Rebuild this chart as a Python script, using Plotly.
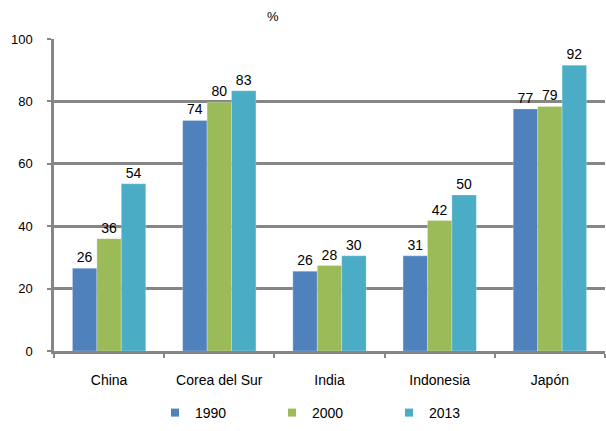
import plotly.graph_objects as go

categories = ["China", "Corea del Sur", "India", "Indonesia", "Japón"]
series_names = ["1990", "2000", "2013"]
values_1990 = [26.5, 73.9, 25.6, 30.5, 77.6]
values_2000 = [36.0, 79.7, 27.4, 41.8, 78.4]
values_2013 = [53.6, 83.4, 30.5, 50.0, 91.6]
labels_1990 = ["26", "74", "26", "31", "77"]
labels_2000 = ["36", "80", "28", "42", "79"]
labels_2013 = ["54", "83", "30", "50", "92"]
colors = ["#4F81BD", "#9BBB59", "#4BACC6"]
y_ticks = [0, 20, 40, 60, 80, 100]

FONT = "Liberation Sans, Arial, sans-serif"

fig = go.Figure()
for name, vals, labs, col in zip(series_names,
                                 [values_1990, values_2000, values_2013],
                                 [labels_1990, labels_2000, labels_2013],
                                 colors):
    fig.add_trace(go.Bar(
        x=categories, y=vals, name=name, text=labs,
        textposition="outside", cliponaxis=False, constraintext="none",
        textfont=dict(family=FONT, size=14, color="#000000"),
        marker=dict(color=col, line=dict(color="rgba(255,255,255,0.5)", width=0.5)),
        showlegend=False,
    ))
# legend-only entries with small square markers
for name, col in zip(series_names, colors):
    fig.add_trace(go.Scatter(
        x=[None], y=[None], mode="markers", name=name,
        marker=dict(symbol="square", size=8, color=col),
    ))

PL, PR, PT, PB = 54, 1, 39, 80
W, H = 606, 431
pw, ph = W - PL - PR, H - PT - PB

fig.update_layout(
    width=W, height=H,
    margin=dict(l=PL, r=PR, t=PT, b=PB),
    paper_bgcolor="white", plot_bgcolor="white",
    barmode="group", bargap=0.335, bargroupgap=0,
    font=dict(family=FONT, size=13, color="#000000"),
    showlegend=True,
    legend=dict(orientation="h", x=(155 - PL) / pw, xanchor="left",
                y=-(397 - (H - PB)) / ph, yanchor="top",
                entrywidth=72, entrywidthmode="pixels", itemwidth=30,
                font=dict(family=FONT, size=14)),
    annotations=[dict(text="%", x=(273 - PL) / pw, xref="paper",
                      y=1 + (PT - 16) / ph, yref="paper", yanchor="middle",
                      showarrow=False, font=dict(family=FONT, size=13))],
)

fig.update_yaxes(range=[0, 100], tickvals=y_ticks, showgrid=True,
                 gridcolor="#868686", gridwidth=2.5,
                 showline=True, linecolor="#868686", linewidth=2.5,
                 ticks="outside", ticklen=4, tickcolor="#868686", tickwidth=2,
                 ticklabelstandoff=12, zeroline=False,
                 tickfont=dict(family=FONT, size=13))
fig.update_xaxes(showline=True, linecolor="#868686", linewidth=2.5,
                 ticks="outside", tickson="boundaries", ticklen=4,
                 tickcolor="#868686", tickwidth=2, showgrid=False,
                 ticklabelstandoff=14,
                 tickfont=dict(family=FONT, size=14))

fig.write_html("out.html",
               config={"displayModeBar": False},
               post_script="document.body.style.margin='0';document.body.style.overflow='hidden';")
